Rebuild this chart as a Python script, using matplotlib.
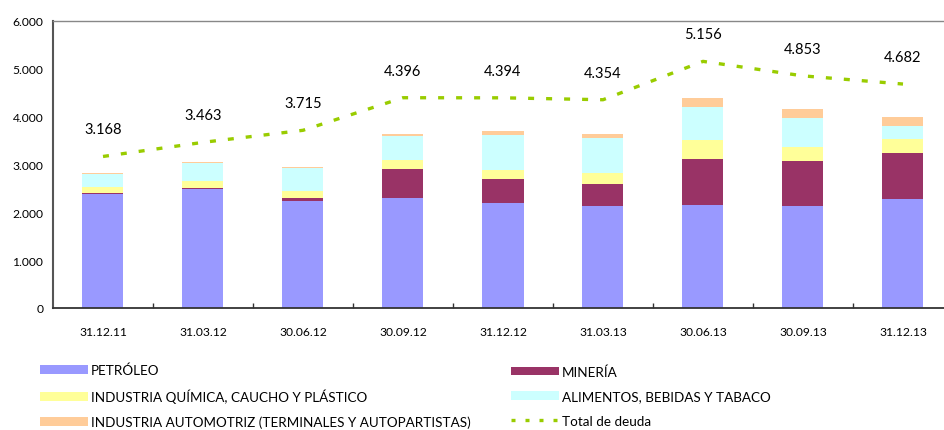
import numpy as np
import matplotlib
matplotlib.use("Agg")
import matplotlib.pyplot as plt
from matplotlib.patches import Patch
from matplotlib.lines import Line2D

plt.rcParams['font.family'] = ['Lato', 'DejaVu Sans']

# data (millions)
fechas = ['31.12.11', '31.03.12', '30.06.12', '30.09.12', '31.12.12',
          '31.03.13', '30.06.13', '30.09.13', '31.12.13']
petroleo = [2385, 2490, 2240, 2300, 2200, 2135, 2155, 2135, 2280]
mineria = [20, 20, 50, 605, 500, 460, 960, 940, 960]
quimica = [130, 155, 165, 190, 190, 235, 400, 300, 300]
alimentos = [265, 370, 475, 500, 730, 725, 690, 600, 265]
automotriz = [20, 20, 20, 50, 85, 85, 190, 190, 190]
total_deuda = [3168, 3463, 3715, 4396, 4394, 4354, 5156, 4853, 4682]

series = [
    ('PETRÓLEO', petroleo, '#9999FF'),
    ('MINERÍA', mineria, '#993366'),
    ('INDUSTRIA QUÍMICA, CAUCHO Y PLÁSTICO', quimica, '#FFFF99'),
    ('ALIMENTOS, BEBIDAS Y TABACO', alimentos, '#CCFFFF'),
    ('INDUSTRIA AUTOMOTRIZ (TERMINALES Y AUTOPARTISTAS)', automotriz, '#FFCC99'),
]
line_color = '#99CC00'

def miles(v):
    return f'{v:,.0f}'.replace(',', '.')

fig = plt.figure(figsize=(9.45, 4.31), dpi=100)
ax = fig.add_axes([53/945, 122/431, 900/945, 287/431])

x = np.arange(len(fechas))
bottom = np.zeros(len(fechas))
for name, vals, col in series:
    ax.bar(x, vals, 0.41, bottom=bottom, color=col, linewidth=0)
    bottom += np.array(vals)

ax.plot(x, total_deuda, color=line_color, lw=2.4, dashes=(1.8, 3.6),
        solid_capstyle='butt', dash_capstyle='butt')
for xi, v in zip(x, total_deuda):
    ax.annotate(miles(v), (xi, v), xytext=(0, 19.5), textcoords='offset points',
                ha='center', va='center', fontsize=10.5, color='black')

ax.set_xlim(-0.5, len(fechas) - 0.5)
ax.set_ylim(0, 6000)
ax.set_yticks(np.arange(0, 6001, 1000))
ax.set_yticklabels([miles(v) for v in np.arange(0, 6001, 1000)], fontsize=8.7)
ax.set_xticks(x)
ax.set_xticklabels(fechas, fontsize=8.7)
ax.set_xticks(np.arange(0.5, len(fechas) - 0.5, 1), minor=True)
ax.tick_params(axis='x', which='major', length=0, pad=13)
ax.tick_params(axis='x', which='minor', length=3.6, direction='in', width=1, color='#333333')
ax.tick_params(axis='y', length=0, pad=7)

ax.spines['right'].set_visible(False)
ax.spines['top'].set_color('#888888')
ax.spines['top'].set_linewidth(1)
ax.spines['left'].set_color('#555555')
ax.spines['left'].set_linewidth(1.5)
ax.spines['bottom'].set_color('#333333')
ax.spines['bottom'].set_linewidth(1.3)

h = [Patch(facecolor=c, edgecolor='none') for _, _, c in series]
h_line = Line2D([], [], color=line_color, lw=2.4, dashes=(1.2, 3.0))
labels = [s[0] for s in series]

common = dict(frameon=False, fontsize=9.75, handlelength=3.55, handleheight=0.6,
              handletextpad=0.22, labelspacing=0.92, borderpad=0, borderaxespad=0,
              loc='center left')
leg1 = fig.legend([h[0], h[2], h[4]], [labels[0], labels[2], labels[4]],
                  bbox_to_anchor=(40/945, (431-397)/431), **common)
leg2 = fig.legend([h[1], h[3], h_line], [labels[1], labels[3], 'Total de deuda'],
                  bbox_to_anchor=(511/945, (431-397)/431), **common)

fig.savefig('out.png', dpi=100)
